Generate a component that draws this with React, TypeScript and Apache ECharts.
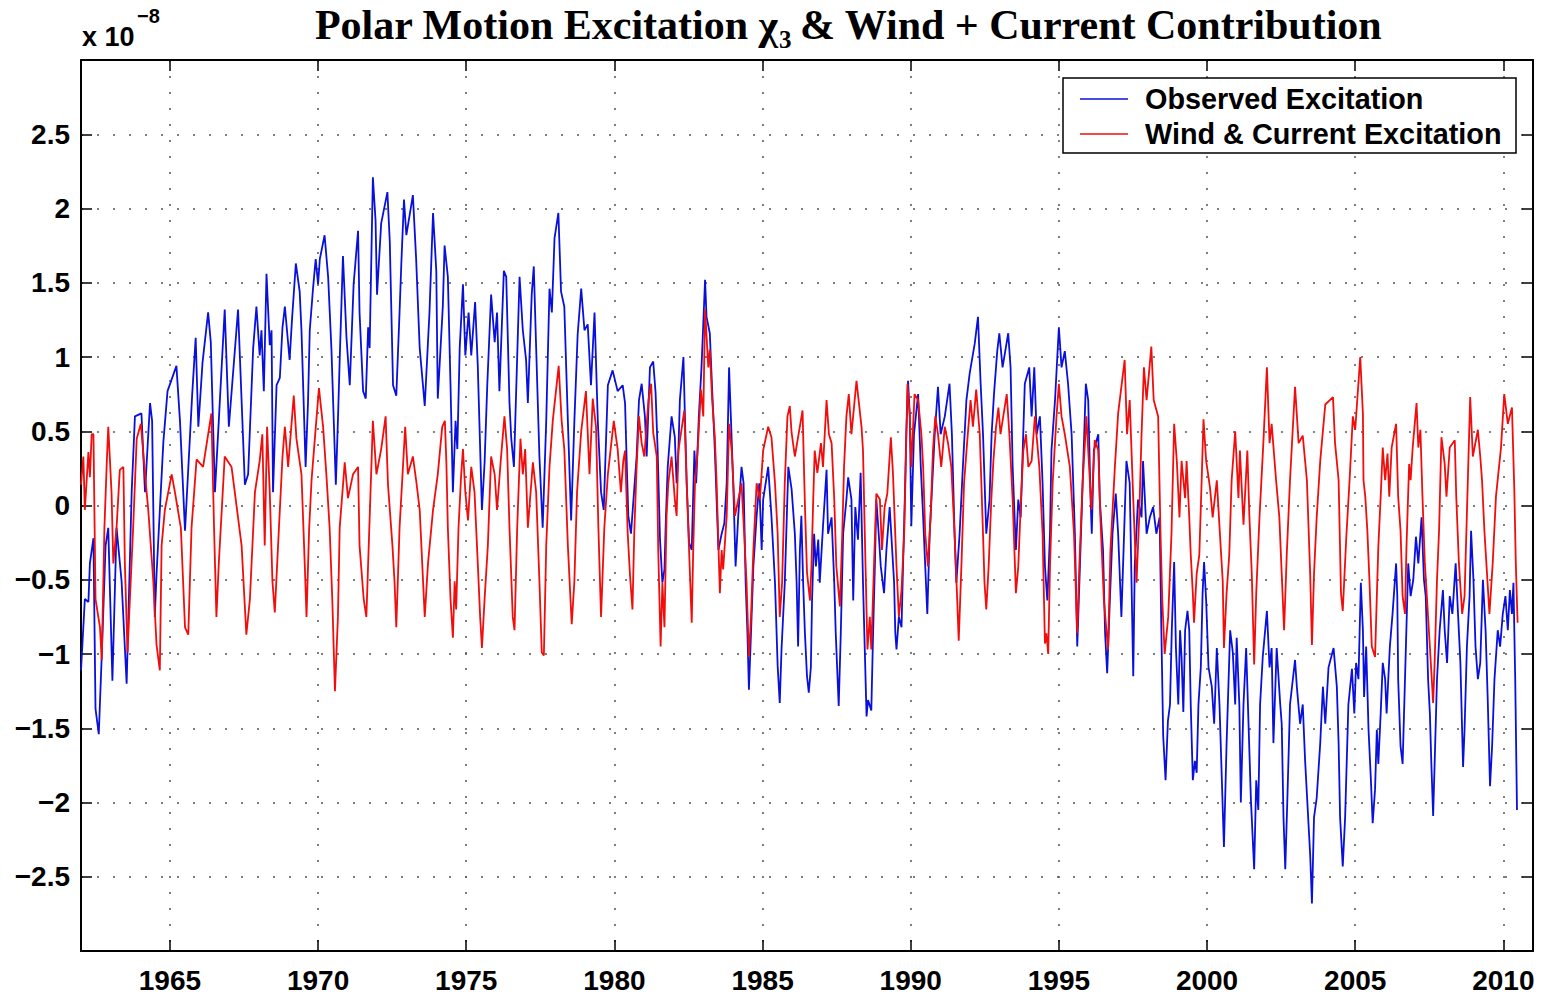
import React, { useEffect, useRef } from "react";
import * as echarts from "echarts";

const xTickYears = [1965, 1970, 1975, 1980, 1985, 1990, 1995, 2000, 2005, 2010];
const yTickValues = [-2.5, -2, -1.5, -1, -0.5, 0, 0.5, 1, 1.5, 2, 2.5];
const seriesNames = ["Observed Excitation", "Wind & Current Excitation"];

// Observed excitation (units of 1e-8), [year, value]
const observed: [number, number][] = [
  [1962.0, -1.11], [1962.13, -0.63], [1962.25, -0.65], [1962.3, -0.39], [1962.42, -0.22], [1962.49, -1.37], [1962.6, -1.54], [1962.7, -1.01],
  [1962.83, -0.27], [1962.92, -0.15], [1963.06, -1.18], [1963.2, -0.15], [1963.37, -0.51], [1963.54, -1.2], [1963.71, 0.09], [1963.82, 0.6],
  [1964.04, 0.62], [1964.16, 0.09], [1964.33, 0.69], [1964.4, 0.57], [1964.49, -0.75], [1964.55, -0.46], [1964.78, 0.43], [1964.92, 0.77],
  [1965.22, 0.94], [1965.34, 0.57], [1965.51, -0.17], [1965.75, 0.74], [1965.87, 1.13], [1965.96, 0.53], [1966.1, 0.96], [1966.29, 1.3],
  [1966.38, 1.1], [1966.52, 0.09], [1966.65, 0.57], [1966.85, 1.32], [1966.99, 0.53], [1967.3, 1.32], [1967.53, 0.14], [1967.64, 0.21],
  [1967.81, 1.06], [1967.92, 1.34], [1968.03, 1.01], [1968.09, 1.18], [1968.17, 0.77], [1968.26, 1.56], [1968.37, 1.08], [1968.43, 1.18],
  [1968.48, 0.09], [1968.6, 0.81], [1968.71, 0.86], [1968.8, 1.2], [1968.88, 1.34], [1969.04, 0.98], [1969.12, 1.25], [1969.25, 1.63],
  [1969.38, 1.44], [1969.44, 1.18], [1969.58, 0.26], [1969.66, 0.69], [1969.72, 1.18], [1969.83, 1.46], [1969.92, 1.66], [1970.0, 1.49],
  [1970.06, 1.66], [1970.22, 1.82], [1970.34, 1.54], [1970.45, 1.06], [1970.6, 0.14], [1970.67, 0.57], [1970.73, 0.98], [1970.84, 1.68],
  [1970.96, 1.13], [1971.07, 0.81], [1971.2, 1.49], [1971.35, 1.85], [1971.4, 1.3], [1971.52, 0.77], [1971.61, 0.72], [1971.69, 1.2],
  [1971.74, 1.06], [1971.85, 2.21], [1971.94, 1.92], [1971.99, 1.42], [1972.13, 1.9], [1972.34, 2.11], [1972.42, 1.78], [1972.53, 0.81],
  [1972.64, 0.74], [1972.75, 1.3], [1972.81, 1.63], [1972.9, 2.06], [1972.98, 1.82], [1973.2, 2.09], [1973.31, 1.66], [1973.43, 1.06],
  [1973.54, 0.81], [1973.6, 0.67], [1973.76, 1.3], [1973.88, 1.97], [1973.99, 1.58], [1974.04, 0.72], [1974.21, 1.34], [1974.27, 1.75],
  [1974.38, 1.54], [1974.47, 0.81], [1974.55, 0.09], [1974.64, 0.57], [1974.7, 0.38], [1974.78, 1.06], [1974.89, 1.49], [1974.97, 1.01],
  [1975.08, 1.3], [1975.17, 1.01], [1975.3, 1.37], [1975.39, 0.94], [1975.53, -0.03], [1975.62, 0.29], [1975.71, 0.81], [1975.84, 1.42],
  [1975.96, 1.1], [1976.04, 1.3], [1976.12, 0.77], [1976.27, 1.58], [1976.35, 1.54], [1976.46, 0.69], [1976.52, 0.45], [1976.61, 0.26],
  [1976.8, 1.54], [1976.91, 1.18], [1977.02, 0.98], [1977.08, 0.69], [1977.21, 1.42], [1977.28, 1.61], [1977.36, 1.06], [1977.47, 0.33],
  [1977.58, -0.15], [1977.7, 0.57], [1977.81, 1.46], [1977.89, 1.3], [1977.98, 1.8], [1978.11, 1.97], [1978.2, 1.44], [1978.31, 1.34],
  [1978.43, 0.57], [1978.54, -0.1], [1978.65, 0.57], [1978.76, 1.15], [1978.88, 1.46], [1978.99, 1.18], [1979.1, 1.22], [1979.21, 0.81],
  [1979.33, 1.3], [1979.44, 0.57], [1979.55, 0.09], [1979.64, -0.03], [1979.78, 0.81], [1979.94, 0.91], [1980.11, 0.77], [1980.28, 0.81],
  [1980.36, 0.69], [1980.42, 0.26], [1980.47, -0.07], [1980.56, -0.19], [1980.75, 0.33], [1980.83, 0.71], [1980.92, 0.82], [1981.03, 0.6],
  [1981.09, 0.33], [1981.2, 0.93], [1981.31, 0.97], [1981.39, 0.76], [1981.46, 0.37], [1981.54, -0.23], [1981.62, -0.52], [1981.69, -0.43],
  [1981.74, -0.07], [1981.8, 0.26], [1981.93, 0.6], [1982.04, 0.46], [1982.1, 0.15], [1982.16, 0.37], [1982.21, 0.71], [1982.33, 1.0],
  [1982.38, 0.6], [1982.44, 0.15], [1982.52, -0.25], [1982.61, -0.3], [1982.7, 0.37], [1982.76, 0.15], [1982.85, 0.6], [1982.94, 0.93],
  [1983.06, 1.52], [1983.11, 1.27], [1983.22, 1.16], [1983.3, 0.78], [1983.39, 0.37], [1983.51, -0.3], [1983.62, -0.19], [1983.71, -0.12],
  [1983.79, 0.15], [1983.87, 0.93], [1983.93, 0.6], [1984.01, 0.15], [1984.09, -0.41], [1984.18, -0.07], [1984.29, 0.26], [1984.36, 0.15],
  [1984.43, -0.52], [1984.49, -0.86], [1984.54, -1.24], [1984.61, -0.86], [1984.69, -0.41], [1984.8, -0.07], [1984.89, 0.15], [1984.97, -0.3],
  [1985.02, 0.04], [1985.19, 0.26], [1985.3, -0.07], [1985.42, -0.52], [1985.51, -1.08], [1985.58, -1.33], [1985.64, -0.97], [1985.75, -0.52],
  [1985.87, 0.26], [1985.98, 0.11], [1986.09, -0.19], [1986.15, -0.52], [1986.2, -0.95], [1986.26, -0.3], [1986.31, -0.07], [1986.37, -0.52],
  [1986.43, -0.86], [1986.5, -1.15], [1986.56, -1.26], [1986.63, -1.09], [1986.67, -0.64], [1986.74, -0.19], [1986.8, -0.41], [1986.88, -0.23],
  [1986.93, -0.52], [1987.04, -0.14], [1987.16, 0.24], [1987.21, -0.19], [1987.33, -0.08], [1987.42, -0.52], [1987.47, -0.86], [1987.57, -1.35],
  [1987.64, -0.86], [1987.72, -0.19], [1987.83, 0.04], [1987.89, 0.19], [1988.0, 0.04], [1988.06, -0.64], [1988.13, -0.01], [1988.22, -0.23],
  [1988.31, 0.22], [1988.39, -0.52], [1988.45, -0.97], [1988.51, -1.42], [1988.56, -1.31], [1988.67, -1.38], [1988.73, -0.86], [1988.79, -0.41],
  [1988.84, 0.04], [1988.92, -0.19], [1988.99, -0.41], [1989.1, -0.59], [1989.18, -0.3], [1989.29, -0.01], [1989.44, -0.52], [1989.48, -0.86],
  [1989.52, -0.97], [1989.6, -0.75], [1989.69, -0.82], [1989.74, -0.41], [1989.8, 0.04], [1989.85, 0.48], [1989.91, 0.84], [1989.97, 0.6],
  [1990.02, -0.14], [1990.11, 0.48], [1990.25, 0.75], [1990.34, 0.26], [1990.42, -0.08], [1990.49, -0.41], [1990.56, -0.73], [1990.64, -0.19],
  [1990.7, 0.04], [1990.81, 0.48], [1990.92, 0.8], [1991.01, 0.48], [1991.15, 0.6], [1991.31, 0.82], [1991.39, 0.48], [1991.48, -0.19],
  [1991.54, -0.52], [1991.65, -0.19], [1991.76, 0.26], [1991.88, 0.71], [1991.99, 0.89], [1992.16, 1.09], [1992.27, 1.27], [1992.36, 0.82],
  [1992.44, 0.48], [1992.55, -0.19], [1992.66, 0.04], [1992.73, 0.48], [1992.81, 0.75], [1992.92, 1.04], [1992.99, 1.16], [1993.1, 0.93],
  [1993.29, 1.16], [1993.37, 0.93], [1993.44, 0.26], [1993.55, -0.3], [1993.63, 0.04], [1993.71, -0.08], [1993.78, 0.37], [1993.85, 0.82],
  [1994.0, 0.93], [1994.08, 0.6], [1994.17, 0.93], [1994.25, 0.48], [1994.36, 0.6], [1994.45, 0.15], [1994.53, -0.41], [1994.61, -0.64],
  [1994.7, -0.19], [1994.75, 0.37], [1994.87, 0.71], [1995.0, 1.2], [1995.09, 0.93], [1995.2, 1.04], [1995.31, 0.82], [1995.43, 0.48],
  [1995.54, -0.19], [1995.62, -0.95], [1995.71, -0.41], [1995.82, 0.26], [1995.91, 0.82], [1995.99, 0.71], [1996.07, 0.04], [1996.11, -0.19],
  [1996.18, 0.37], [1996.33, 0.48], [1996.38, 0.04], [1996.49, -0.3], [1996.56, -0.86], [1996.63, -1.13], [1996.72, -0.64], [1996.81, -0.19],
  [1996.92, 0.08], [1997.0, -0.19], [1997.11, -0.75], [1997.28, 0.3], [1997.39, 0.15], [1997.51, -1.15], [1997.56, -0.41], [1997.67, 0.04],
  [1997.79, -0.08], [1997.84, 0.3], [1997.96, -0.19], [1998.07, -0.08], [1998.18, -0.01], [1998.29, -0.19], [1998.4, -0.08], [1998.46, -0.86],
  [1998.52, -1.55], [1998.6, -1.85], [1998.68, -1.45], [1998.75, -1.34], [1998.81, -0.84], [1998.89, -0.38], [1998.95, -0.96], [1999.03, -1.34],
  [1999.09, -0.84], [1999.14, -1.02], [1999.2, -1.39], [1999.26, -0.84], [1999.34, -0.71], [1999.4, -0.84], [1999.45, -1.34], [1999.52, -1.85],
  [1999.59, -1.72], [1999.65, -1.8], [1999.71, -1.34], [1999.79, -1.09], [1999.85, -0.59], [1999.9, -0.38], [1999.97, -0.64], [2000.05, -1.09],
  [2000.16, -1.22], [2000.24, -1.47], [2000.33, -0.96], [2000.42, -1.34], [2000.5, -1.85], [2000.57, -2.3], [2000.66, -1.6], [2000.78, -0.84],
  [2000.87, -0.99], [2000.95, -1.34], [2001.0, -0.89], [2001.09, -1.34], [2001.14, -2.0], [2001.23, -1.34], [2001.32, -0.96], [2001.4, -1.47],
  [2001.48, -1.98], [2001.59, -2.45], [2001.66, -1.85], [2001.73, -2.05], [2001.79, -1.34], [2001.88, -1.02], [2002.02, -0.71], [2002.11, -1.09],
  [2002.18, -0.96], [2002.24, -1.6], [2002.35, -0.96], [2002.47, -1.34], [2002.52, -1.47], [2002.58, -2.1], [2002.64, -2.45], [2002.71, -1.98],
  [2002.8, -1.34], [2002.97, -1.04], [2003.03, -1.22], [2003.14, -1.47], [2003.23, -1.34], [2003.31, -1.72], [2003.48, -2.35], [2003.54, -2.68],
  [2003.61, -2.1], [2003.7, -1.97], [2003.82, -1.6], [2003.91, -1.22], [2003.99, -1.47], [2004.1, -1.09], [2004.27, -0.96], [2004.38, -1.22],
  [2004.44, -1.6], [2004.49, -2.1], [2004.58, -2.43], [2004.66, -2.1], [2004.77, -1.34], [2004.89, -1.1], [2004.97, -1.4], [2005.03, -1.06],
  [2005.11, -1.17], [2005.19, -0.52], [2005.26, -0.84], [2005.3, -1.29], [2005.37, -0.95], [2005.45, -1.51], [2005.53, -1.85], [2005.59, -2.14],
  [2005.67, -1.91], [2005.73, -1.51], [2005.78, -1.74], [2005.86, -1.4], [2005.93, -1.06], [2006.01, -1.17], [2006.06, -1.4], [2006.17, -0.95],
  [2006.26, -0.73], [2006.38, -0.39], [2006.42, -0.61], [2006.45, -1.17], [2006.53, -1.62], [2006.6, -1.74], [2006.68, -1.17], [2006.79, -0.39],
  [2006.87, -0.61], [2006.96, -0.5], [2007.05, -0.21], [2007.13, -0.39], [2007.24, -0.08], [2007.32, -0.5], [2007.38, -0.61], [2007.46, -1.17],
  [2007.52, -1.4], [2007.57, -1.74], [2007.63, -2.09], [2007.68, -1.74], [2007.76, -1.17], [2007.85, -0.84], [2007.96, -0.57], [2008.02, -0.84],
  [2008.1, -1.06], [2008.19, -0.61], [2008.28, -0.73], [2008.39, -0.39], [2008.47, -0.73], [2008.55, -1.06], [2008.64, -1.76], [2008.69, -1.51],
  [2008.77, -0.95], [2008.86, -0.61], [2008.91, -0.17], [2008.99, -0.5], [2009.06, -0.95], [2009.14, -1.17], [2009.22, -1.06], [2009.31, -0.5],
  [2009.4, -0.84], [2009.47, -1.29], [2009.55, -1.89], [2009.62, -1.62], [2009.7, -1.17], [2009.81, -0.84], [2009.89, -0.95], [2009.98, -0.73],
  [2010.07, -0.61], [2010.15, -0.84], [2010.22, -0.57], [2010.29, -0.73], [2010.34, -0.52], [2010.4, -1.17], [2010.46, -2.05],
];

// Wind + current contribution (units of 1e-8), [year, value]
const windCurrent: [number, number][] = [
  [1962.0, 0.14], [1962.08, 0.33], [1962.13, -0.03], [1962.25, 0.36], [1962.3, 0.19], [1962.36, 0.48], [1962.42, 0.48], [1962.49, -0.63],
  [1962.64, -0.82], [1962.7, -1.04], [1962.79, -0.15], [1962.87, 0.29], [1962.92, 0.53], [1963.03, 0.09], [1963.09, -0.39], [1963.2, -0.15],
  [1963.31, 0.24], [1963.43, 0.26], [1963.48, -0.39], [1963.57, -0.99], [1963.65, -0.63], [1963.76, -0.15], [1963.88, 0.45], [1964.02, 0.55],
  [1964.16, 0.21], [1964.27, -0.03], [1964.44, -0.51], [1964.55, -0.94], [1964.66, -1.11], [1964.72, -0.27], [1964.83, -0.03], [1965.06, 0.21],
  [1965.17, 0.09], [1965.37, -0.15], [1965.51, -0.82], [1965.62, -0.87], [1965.73, -0.15], [1965.9, 0.31], [1966.12, 0.26], [1966.4, 0.62],
  [1966.49, -0.15], [1966.57, -0.75], [1966.65, -0.39], [1966.85, 0.33], [1967.08, 0.26], [1967.19, 0.09], [1967.42, -0.27], [1967.58, -0.87],
  [1967.7, -0.63], [1967.87, 0.09], [1968.03, 0.3], [1968.12, 0.48], [1968.2, -0.27], [1968.28, 0.53], [1968.37, 0.09], [1968.46, -0.51],
  [1968.54, -0.72], [1968.65, -0.27], [1968.8, 0.33], [1968.88, 0.53], [1968.99, 0.26], [1969.18, 0.74], [1969.27, 0.45], [1969.44, 0.21],
  [1969.55, -0.39], [1969.61, -0.75], [1969.7, -0.15], [1969.78, 0.17], [1969.94, 0.57], [1970.03, 0.79], [1970.17, 0.53], [1970.28, 0.21],
  [1970.39, -0.15], [1970.48, -0.63], [1970.57, -1.25], [1970.67, -0.75], [1970.73, -0.15], [1970.9, 0.29], [1971.01, 0.05], [1971.18, 0.21],
  [1971.35, 0.26], [1971.4, -0.27], [1971.54, -0.63], [1971.63, -0.75], [1971.69, -0.39], [1971.85, 0.57], [1971.97, 0.21], [1972.13, 0.38],
  [1972.28, 0.6], [1972.36, 0.14], [1972.51, -0.27], [1972.58, -0.51], [1972.64, -0.82], [1972.75, -0.15], [1972.94, 0.53], [1973.03, 0.21],
  [1973.2, 0.33], [1973.31, 0.17], [1973.43, -0.03], [1973.6, -0.75], [1973.71, -0.39], [1973.88, -0.03], [1974.04, 0.21], [1974.19, 0.53],
  [1974.28, 0.57], [1974.33, 0.29], [1974.38, -0.15], [1974.47, -0.63], [1974.55, -0.89], [1974.61, -0.51], [1974.66, -0.7], [1974.74, -0.15],
  [1974.83, 0.21], [1974.89, 0.38], [1974.97, 0.09], [1975.06, -0.1], [1975.17, 0.26], [1975.28, 0.09], [1975.39, -0.39], [1975.47, -0.75],
  [1975.53, -0.96], [1975.62, -0.63], [1975.73, -0.27], [1975.84, 0.33], [1975.96, 0.21], [1976.04, -0.03], [1976.16, 0.29], [1976.29, 0.6],
  [1976.38, 0.38], [1976.46, -0.15], [1976.57, -0.75], [1976.63, -0.84], [1976.72, -0.15], [1976.83, 0.45], [1976.91, 0.21], [1976.99, 0.38],
  [1977.08, -0.15], [1977.25, 0.29], [1977.36, 0.09], [1977.47, -0.51], [1977.55, -0.99], [1977.62, -1.01], [1977.7, -0.27], [1977.81, 0.26],
  [1977.92, 0.57], [1978.12, 0.94], [1978.22, 0.57], [1978.31, 0.38], [1978.43, -0.27], [1978.56, -0.8], [1978.65, -0.51], [1978.74, 0.09],
  [1978.88, 0.5], [1979.04, 0.77], [1979.16, 0.21], [1979.27, 0.72], [1979.38, 0.53], [1979.46, -0.15], [1979.55, -0.75], [1979.66, -0.15],
  [1979.78, 0.21], [1979.98, 0.57], [1980.11, 0.38], [1980.22, 0.09], [1980.3, 0.3], [1980.36, 0.37], [1980.45, -0.19], [1980.53, -0.48],
  [1980.61, -0.7], [1980.67, -0.19], [1980.75, 0.26], [1980.83, 0.6], [1980.92, 0.42], [1981.01, 0.33], [1981.15, 0.71], [1981.24, 0.82],
  [1981.31, 0.49], [1981.43, 0.33], [1981.48, -0.3], [1981.56, -0.95], [1981.62, -0.52], [1981.69, -0.82], [1981.76, -0.07], [1981.82, 0.15],
  [1981.93, 0.33], [1982.04, 0.04], [1982.1, -0.07], [1982.16, 0.37], [1982.36, 0.64], [1982.44, 0.15], [1982.52, -0.3], [1982.61, -0.79],
  [1982.66, -0.3], [1982.72, 0.15], [1982.81, 0.37], [1982.92, 0.78], [1983.0, 0.6], [1983.06, 1.32], [1983.17, 0.93], [1983.22, 1.05],
  [1983.3, 0.71], [1983.39, 0.46], [1983.45, 0.15], [1983.56, -0.59], [1983.62, -0.3], [1983.67, -0.43], [1983.79, -0.07], [1983.87, 0.55],
  [1983.96, 0.37], [1984.07, -0.07], [1984.18, 0.04], [1984.29, 0.15], [1984.38, -0.19], [1984.46, -0.52], [1984.54, -1.02], [1984.61, -0.75],
  [1984.69, -0.3], [1984.8, 0.15], [1984.91, 0.04], [1985.02, 0.37], [1985.19, 0.53], [1985.3, 0.46], [1985.42, 0.15], [1985.51, -0.19],
  [1985.58, -0.75], [1985.66, -0.52], [1985.75, 0.15], [1985.84, 0.6], [1985.92, 0.67], [1985.98, 0.49], [1986.09, 0.33], [1986.35, 0.64],
  [1986.43, 0.0], [1986.5, -0.45], [1986.6, -0.64], [1986.65, -0.41], [1986.71, 0.04], [1986.76, 0.37], [1986.85, 0.22], [1986.97, 0.42],
  [1987.04, 0.26], [1987.16, 0.71], [1987.24, 0.48], [1987.33, 0.42], [1987.42, 0.04], [1987.49, -0.41], [1987.61, -0.68], [1987.69, -0.19],
  [1987.75, 0.26], [1987.83, 0.6], [1987.91, 0.75], [1988.0, 0.48], [1988.17, 0.84], [1988.34, 0.53], [1988.39, 0.37], [1988.45, -0.19],
  [1988.54, -0.97], [1988.62, -0.75], [1988.67, -0.97], [1988.76, -0.41], [1988.84, 0.08], [1988.96, 0.04], [1989.03, -0.3], [1989.12, -0.01],
  [1989.21, 0.08], [1989.33, 0.46], [1989.4, 0.22], [1989.52, -0.41], [1989.6, -0.75], [1989.69, -0.57], [1989.78, -0.19], [1989.83, 0.26],
  [1989.89, 0.82], [1989.97, 0.6], [1990.02, 0.26], [1990.13, 0.75], [1990.25, 0.71], [1990.36, 0.48], [1990.42, 0.26], [1990.49, -0.19],
  [1990.58, -0.41], [1990.67, -0.08], [1990.75, 0.37], [1990.83, 0.6], [1990.92, 0.48], [1991.03, 0.26], [1991.15, 0.53], [1991.26, 0.42],
  [1991.37, 0.26], [1991.48, -0.19], [1991.57, -0.64], [1991.62, -0.91], [1991.71, -0.41], [1991.8, 0.15], [1991.91, 0.44], [1992.02, 0.71],
  [1992.1, 0.53], [1992.21, 0.78], [1992.33, 0.48], [1992.44, -0.19], [1992.49, -0.52], [1992.55, -0.7], [1992.63, -0.41], [1992.72, 0.04],
  [1992.79, 0.3], [1992.88, 0.53], [1992.96, 0.66], [1993.03, 0.48], [1993.24, 0.75], [1993.33, 0.48], [1993.44, 0.04], [1993.55, -0.59],
  [1993.63, -0.41], [1993.71, -0.01], [1993.8, 0.37], [1993.89, 0.48], [1993.97, 0.26], [1994.08, 0.3], [1994.19, 0.6], [1994.34, 0.26],
  [1994.45, -0.19], [1994.53, -0.93], [1994.58, -0.86], [1994.64, -1.0], [1994.7, -0.41], [1994.79, 0.15], [1994.92, 0.6], [1995.0, 0.82],
  [1995.09, 0.6], [1995.2, 0.48], [1995.37, 0.26], [1995.51, -0.19], [1995.62, -0.86], [1995.69, -0.41], [1995.8, 0.15], [1995.93, 0.6],
  [1996.02, 0.26], [1996.1, -0.03], [1996.21, 0.44], [1996.33, 0.37], [1996.4, -0.08], [1996.52, -0.64], [1996.66, -0.97], [1996.74, -0.3],
  [1996.89, 0.26], [1997.0, 0.62], [1997.22, 0.98], [1997.3, 0.48], [1997.39, 0.71], [1997.51, 0.04], [1997.62, -0.52], [1997.71, -0.08],
  [1997.79, 0.48], [1997.87, 0.93], [1997.96, 0.71], [1998.12, 1.07], [1998.2, 0.71], [1998.35, 0.6], [1998.43, -0.19], [1998.49, -0.64],
  [1998.57, -1.0], [1998.69, -0.75], [1998.8, -0.19], [1998.89, 0.55], [1998.98, 0.3], [1999.07, -0.08], [1999.14, 0.3], [1999.26, 0.05],
  [1999.31, 0.3], [1999.4, -0.08], [1999.45, -0.33], [1999.52, -0.59], [1999.56, -0.79], [1999.65, -0.46], [1999.74, -0.33], [1999.82, 0.18],
  [1999.88, 0.58], [1999.97, 0.3], [2000.1, 0.12], [2000.19, -0.08], [2000.33, 0.17], [2000.44, -0.21], [2000.53, -0.51], [2000.57, -0.96],
  [2000.66, -0.59], [2000.75, -0.33], [2000.83, 0.17], [2000.95, 0.5], [2001.06, 0.05], [2001.11, 0.37], [2001.23, -0.13], [2001.36, 0.37],
  [2001.43, -0.08], [2001.51, -0.46], [2001.59, -1.07], [2001.66, -0.59], [2001.77, -0.08], [2001.9, 0.42], [2002.02, 0.93], [2002.11, 0.42],
  [2002.18, 0.55], [2002.33, 0.17], [2002.44, -0.08], [2002.52, -0.46], [2002.6, -0.84], [2002.69, -0.33], [2002.8, 0.17], [2002.97, 0.8],
  [2003.09, 0.42], [2003.23, 0.47], [2003.37, 0.17], [2003.48, -0.46], [2003.54, -0.94], [2003.61, -0.46], [2003.7, -0.08], [2003.82, 0.3],
  [2003.99, 0.68], [2004.25, 0.73], [2004.32, 0.42], [2004.44, 0.17], [2004.52, -0.59], [2004.58, -0.71], [2004.7, -0.21], [2004.81, 0.17],
  [2004.92, 0.6], [2005.0, 0.51], [2005.17, 1.0], [2005.26, 0.62], [2005.28, 0.17], [2005.34, 0.06], [2005.41, -0.17], [2005.48, -0.5],
  [2005.56, -0.95], [2005.67, -1.02], [2005.73, -0.61], [2005.78, -0.28], [2005.86, 0.06], [2005.93, 0.39], [2006.01, 0.17], [2006.09, 0.35],
  [2006.15, 0.06], [2006.23, 0.39], [2006.38, 0.55], [2006.45, 0.06], [2006.53, -0.17], [2006.6, -0.61], [2006.68, -0.73], [2006.73, -0.28],
  [2006.82, 0.28], [2006.87, 0.17], [2006.94, 0.39], [2007.07, 0.69], [2007.13, 0.39], [2007.2, 0.51], [2007.27, 0.06], [2007.35, -0.39],
  [2007.52, -0.95], [2007.63, -1.33], [2007.68, -1.06], [2007.76, -0.5], [2007.83, -0.17], [2007.91, 0.46], [2008.02, 0.28], [2008.08, 0.06],
  [2008.19, 0.39], [2008.36, 0.44], [2008.41, 0.06], [2008.5, -0.39], [2008.61, -0.73], [2008.69, -0.61], [2008.77, -0.05], [2008.88, 0.73],
  [2008.97, 0.33], [2009.14, 0.51], [2009.22, 0.33], [2009.28, 0.17], [2009.36, -0.17], [2009.53, -0.73], [2009.64, -0.39], [2009.75, 0.06],
  [2009.92, 0.39], [2010.03, 0.75], [2010.15, 0.55], [2010.29, 0.66], [2010.37, 0.1], [2010.42, -0.39], [2010.48, -0.79],
];

const SANS = "'Liberation Sans', Arial, Helvetica, sans-serif";
const SERIF = "'Liberation Serif', 'Times New Roman', serif";
const BLUE = "#0a10dc";
const RED = "#f20d0d";

export default function App() {
  const ref = useRef<HTMLDivElement>(null);

  useEffect(() => {
    if (!ref.current) return;
    const chart = echarts.init(ref.current, null, { renderer: "svg" });
    const labelStyle = { fontFamily: SANS, fontWeight: "bold" as const, fontSize: 28, color: "#000" };
    const frameLine = { show: true, onZero: false, lineStyle: { color: "#000", width: 2 } };
    const tick = { show: true, inside: true, length: 11, lineStyle: { color: "#000", width: 1.5 } };
    const dotted = { show: true, lineStyle: { type: [2, 14] as number[], color: "#555", width: 1.5 } };
    const fmtY = (v: number) => {
      if (!yTickValues.some((t) => Math.abs(t - v) < 1e-6)) return "";
      const s = String(Math.round(v * 10) / 10);
      return s.replace("-", "\u2212");
    };
    const titleFont = { fontFamily: SERIF, fontWeight: "bold" as const, fontSize: 42, fill: "#000" };

    chart.setOption({
      animation: false,
      backgroundColor: "#fff",
      grid: { left: 81, right: 14, top: 60, bottom: 51, containLabel: false, outerBoundsMode: "none" },
      xAxis: [
        {
          type: "value", min: 1962, max: 2011, position: "bottom",
          axisLine: frameLine,
          axisTick: { ...tick, customValues: xTickYears },
          axisLabel: { ...labelStyle, margin: 15, customValues: xTickYears, formatter: (v: number) => String(v) },
          splitLine: dotted,
        },
        {
          type: "value", min: 1962, max: 2011, position: "top",
          axisLine: frameLine,
          axisTick: { ...tick, customValues: xTickYears },
          axisLabel: { show: false },
          splitLine: { show: false },
        },
      ],
      yAxis: [
        {
          type: "value", min: -3, max: 3, interval: 0.5, position: "left",
          axisLine: frameLine,
          axisTick: tick,
          axisLabel: { ...labelStyle, margin: 11, formatter: fmtY },
          splitLine: dotted,
        },
        {
          type: "value", min: -3, max: 3, interval: 0.5, position: "right",
          axisLine: frameLine,
          axisTick: tick,
          axisLabel: { show: false },
          splitLine: { show: false },
        },
      ],
      series: [
        {
          name: seriesNames[0], type: "line", data: observed, xAxisIndex: 0, yAxisIndex: 0,
          showSymbol: false, symbol: "none", lineStyle: { color: BLUE, width: 1.8 }, itemStyle: { color: BLUE }, z: 2,
        },
        {
          name: seriesNames[1], type: "line", data: windCurrent, xAxisIndex: 0, yAxisIndex: 0,
          showSymbol: false, symbol: "none", lineStyle: { color: RED, width: 1.8 }, itemStyle: { color: RED }, z: 3,
        },
      ],
      graphic: [
        { type: "text", x: 778, y: 25, z: 100, style: { text: "Polar Motion Excitation \u03c7", ...titleFont, align: "right", verticalAlign: "middle" } },
        { type: "text", x: 779, y: 39, z: 100, style: { text: "3", fontFamily: SERIF, fontWeight: "bold", fontSize: 25, fill: "#000", align: "left", verticalAlign: "middle" } },
        { type: "text", x: 800, y: 25, z: 100, style: { text: "& Wind + Current Contribution", ...titleFont, align: "left", verticalAlign: "middle" } },
        { type: "text", x: 82, y: 37, z: 100, style: { text: "x 10", fontFamily: SANS, fontWeight: "bold", fontSize: 27, fill: "#000", align: "left", verticalAlign: "middle" } },
        { type: "text", x: 137, y: 16, z: 100, style: { text: "\u22128", fontFamily: SANS, fontWeight: "bold", fontSize: 20, fill: "#000", align: "left", verticalAlign: "middle" } },
        {
          type: "rect", z: 100, shape: { x: 1063, y: 78, width: 453, height: 75 },
          style: { fill: "#fff", stroke: "#000", lineWidth: 1.5 },
        },
        { type: "line", z: 101, shape: { x1: 1080, y1: 99, x2: 1128, y2: 99 }, style: { stroke: BLUE, lineWidth: 1.5 } },
        { type: "line", z: 101, shape: { x1: 1080, y1: 134, x2: 1128, y2: 134 }, style: { stroke: RED, lineWidth: 1.5 } },
        { type: "text", x: 1145, y: 99, z: 101, style: { text: seriesNames[0], fontFamily: SANS, fontWeight: "bold", fontSize: 28.8, fill: "#000", align: "left", verticalAlign: "middle" } },
        { type: "text", x: 1145, y: 134, z: 101, style: { text: seriesNames[1], fontFamily: SANS, fontWeight: "bold", fontSize: 28.8, fill: "#000", align: "left", verticalAlign: "middle" } },
      ],
    });

    return () => chart.dispose();
  }, []);

  return (
    <div
      ref={ref}
      style={{ position: "fixed", left: 0, top: 0, width: 1547, height: 1002, background: "#fff" }}
    />
  );
}
